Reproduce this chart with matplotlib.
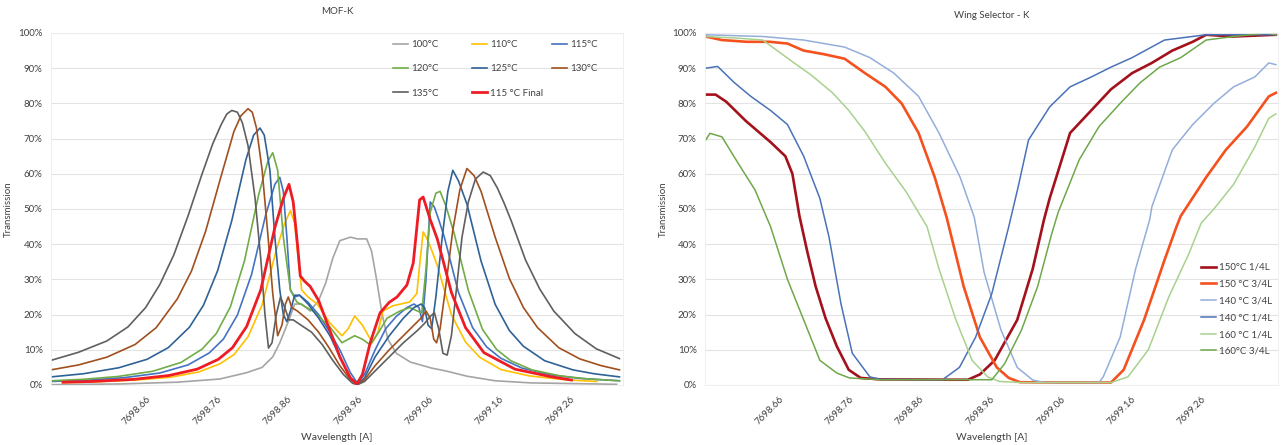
import matplotlib
matplotlib.use('Agg')
import matplotlib.pyplot as plt
from matplotlib.ticker import PercentFormatter, MultipleLocator

plt.rcParams['font.family'] = ['Lato', 'DejaVu Sans']

# ---------------- MOF-K (left chart) ----------------
mof_labels = ['100°C', '110°C', '115°C', '120°C', '125°C', '130°C', '135°C', '115 °C Final']
mof_colors = ['#A5A5A5', '#FFC000', '#4472C4', '#70AD47', '#2F6296', '#A0501E', '#5F5F5F', '#EE1C24']

wl_100 = [7698.521, 7698.620, 7698.700, 7698.760, 7698.798, 7698.820, 7698.835, 7698.845, 7698.858,
          7698.866, 7698.876, 7698.888, 7698.900, 7698.910, 7698.920, 7698.930, 7698.945, 7698.955,
          7698.968, 7698.975, 7698.982, 7698.990, 7698.998, 7699.010, 7699.030, 7699.060, 7699.080,
          7699.110, 7699.150, 7699.200, 7699.322]
t_100 = [0.1, 0.3, 0.8, 1.7, 3.5, 5, 8, 12, 18.5, 23, 23, 21, 24, 29, 36, 41, 42, 41.5,
         41.5, 38, 30, 20, 13, 9, 6.5, 4.8, 4, 2.5, 1.2, 0.6, 0.2]

wl_110 = [7698.538, 7698.580, 7698.640, 7698.690, 7698.730, 7698.760, 7698.780, 7698.800, 7698.820,
          7698.840, 7698.852, 7698.860, 7698.866, 7698.871, 7698.876, 7698.885, 7698.898, 7698.916,
          7698.933, 7698.942, 7698.951, 7698.962, 7698.976, 7698.984, 7698.991, 7699.005, 7699.029,
          7699.039, 7699.044, 7699.048, 7699.055, 7699.068, 7699.088, 7699.108, 7699.128, 7699.158,
          7699.198, 7699.248, 7699.294]
t_110 = [0.65, 0.85, 1.4, 2.2, 3.7, 6, 8.6, 13.7, 22.8, 38.3, 46, 49.5, 46, 36, 27, 25, 23, 17.6,
         14, 16, 19.6, 17, 12, 15, 21, 22.5, 23.6, 26, 36, 43.5, 41, 34, 20, 12.2, 7.9, 4.4,
         2.6, 1.5, 1.0]

wl_115 = [7698.521, 7698.575, 7698.625, 7698.675, 7698.715, 7698.745, 7698.765, 7698.785, 7698.805,
          7698.825, 7698.838, 7698.845, 7698.850, 7698.855, 7698.860, 7698.866, 7698.873, 7698.885,
          7698.900, 7698.916, 7698.930, 7698.945, 7698.955, 7698.965, 7698.980, 7698.995, 7699.010,
          7699.025, 7699.035, 7699.042, 7699.047, 7699.052, 7699.058, 7699.064, 7699.070, 7699.078,
          7699.098, 7699.118, 7699.138, 7699.158, 7699.188, 7699.228, 7699.268, 7699.326]
t_115 = [1.0, 1.4, 2.1, 3.4, 5.7, 9.1, 13, 19.9, 31.4, 48.3, 57, 59, 55, 42, 27, 25, 25.5, 23.5,
         20, 15, 10, 3.5, 0.5, 3, 10, 16, 19.5, 22, 23, 22, 18, 30, 52, 50.5, 47, 42,
         26.3, 16.3, 10.8, 7.6, 4.8, 2.9, 1.9, 1.2]

wl_120 = [7698.521, 7698.565, 7698.615, 7698.665, 7698.705, 7698.735, 7698.755, 7698.775, 7698.795,
          7698.815, 7698.828, 7698.835, 7698.842, 7698.850, 7698.860, 7698.869, 7698.892, 7698.916,
          7698.933, 7698.942, 7698.951, 7698.962, 7698.973, 7698.985, 7698.997, 7699.015, 7699.029,
          7699.040, 7699.046, 7699.052, 7699.058, 7699.066, 7699.072, 7699.080, 7699.092, 7699.112,
          7699.132, 7699.152, 7699.172, 7699.202, 7699.242, 7699.282, 7699.326]
t_120 = [1.2, 1.6, 2.4, 3.9, 6.4, 10.2, 14.6, 22.2, 35.3, 54, 63.5, 66, 61, 42, 27, 23.6, 21, 16.5,
         12, 13, 14, 13, 11.4, 15, 19, 21, 22, 21, 20.5, 33, 49, 54.5, 55, 51, 43, 26.9,
         15.8, 10.1, 6.9, 4.3, 2.6, 1.7, 1.2]

wl_125 = [7698.521, 7698.567, 7698.617, 7698.657, 7698.687, 7698.717, 7698.737, 7698.757, 7698.777,
          7698.797, 7698.808, 7698.817, 7698.823, 7698.831, 7698.838, 7698.845, 7698.850, 7698.855,
          7698.860, 7698.866, 7698.873, 7698.885, 7698.900, 7698.916, 7698.930, 7698.945, 7698.955,
          7698.965, 7698.980, 7699.000, 7699.020, 7699.035, 7699.045, 7699.050, 7699.055, 7699.060,
          7699.066, 7699.075, 7699.083, 7699.090, 7699.098, 7699.110, 7699.130, 7699.150, 7699.170,
          7699.190, 7699.220, 7699.260, 7699.290, 7699.326]
t_125 = [2.3, 3.2, 4.9, 7.3, 10.6, 16.4, 22.7, 32.5, 46.7, 64, 71, 73, 71, 61, 42, 27, 20, 18,
         21, 25.5, 25.5, 23, 19, 14, 8, 2, 0.3, 2, 8, 14, 19, 22, 23, 22, 17, 16,
         25, 42, 55, 61, 58, 51.4, 35.2, 22.9, 15.5, 11, 6.9, 4.3, 3.2, 2.3]

wl_130 = [7698.521, 7698.560, 7698.600, 7698.640, 7698.670, 7698.700, 7698.720, 7698.740, 7698.760,
          7698.780, 7698.790, 7698.800, 7698.806, 7698.812, 7698.820, 7698.828, 7698.835, 7698.842,
          7698.848, 7698.853, 7698.857, 7698.862, 7698.870, 7698.885, 7698.900, 7698.915, 7698.930,
          7698.945, 7698.955, 7698.965, 7698.980, 7699.000, 7699.020, 7699.035, 7699.045, 7699.052,
          7699.058, 7699.063, 7699.067, 7699.072, 7699.080, 7699.090, 7699.100, 7699.110, 7699.120,
          7699.130, 7699.150, 7699.170, 7699.190, 7699.210, 7699.240, 7699.270, 7699.300, 7699.326]
t_130 = [4.3, 5.7, 7.9, 11.5, 16.3, 24.5, 32.4, 43.7, 58, 72, 76.5, 78.5, 77.5, 73, 61, 43, 26, 14,
         17, 23, 25, 22, 21, 18.5, 15, 10.5, 5.5, 1.5, 0.2, 1.5, 5.5, 10, 14, 17, 19, 21,
         19, 13, 12, 16, 28, 44, 55.5, 61.5, 59.5, 55, 42, 30.3, 22, 16.3, 10.6, 7.4, 5.5, 4.3]

wl_135 = [7698.521, 7698.560, 7698.600, 7698.630, 7698.655, 7698.675, 7698.695, 7698.715, 7698.735,
          7698.750, 7698.762, 7698.770, 7698.777, 7698.785, 7698.792, 7698.800, 7698.810, 7698.818,
          7698.824, 7698.829, 7698.834, 7698.840, 7698.846, 7698.852, 7698.858, 7698.864, 7698.875,
          7698.890, 7698.905, 7698.920, 7698.935, 7698.948, 7698.955, 7698.965, 7698.980, 7699.000,
          7699.020, 7699.040, 7699.050, 7699.058, 7699.064, 7699.070, 7699.076, 7699.082, 7699.088,
          7699.095, 7699.103, 7699.112, 7699.122, 7699.133, 7699.143, 7699.153, 7699.163, 7699.173,
          7699.183, 7699.193, 7699.213, 7699.233, 7699.263, 7699.293, 7699.326]
t_135 = [7, 9.3, 12.5, 16.5, 22, 28.5, 37, 48, 60, 68.5, 74, 77, 78, 77.5, 74.5, 68, 53, 36,
         20, 10.5, 12, 20, 25, 22, 18.5, 18.5, 17, 15, 11.5, 7, 3, 0.5, 0.1, 1, 4, 8,
         12, 15.5, 17.5, 19.5, 20.5, 16, 9, 8.5, 14, 27, 42, 52, 58.5, 60.5, 59.5, 56, 51.5, 46.5,
         41, 35.5, 27.3, 21, 14.6, 10.3, 7.5]

wl_115f = [7698.538, 7698.578, 7698.638, 7698.688, 7698.728, 7698.758, 7698.778, 7698.798, 7698.818,
           7698.838, 7698.850, 7698.858, 7698.864, 7698.870, 7698.874, 7698.880, 7698.888, 7698.900,
           7698.915, 7698.930, 7698.945, 7698.954, 7698.962, 7698.973, 7698.987, 7699.000, 7699.011,
           7699.025, 7699.034, 7699.043, 7699.048, 7699.058, 7699.068, 7699.076, 7699.088, 7699.108,
           7699.134, 7699.178, 7699.228, 7699.258]
t_115f = [0.8, 1.0, 1.6, 2.7, 4.5, 7.3, 10.6, 16.6, 27, 44.7, 53, 57, 52, 40, 31, 29.5, 28, 24,
          16, 8, 2, 0.3, 3, 12, 20.5, 23.5, 25, 28.4, 34.7, 52.6, 53.4, 47, 41.5, 35.5, 26.3, 16.3,
          9.2, 4.5, 2.4, 1.4]

mof_wl = [wl_100, wl_110, wl_115, wl_120, wl_125, wl_130, wl_135, wl_115f]
mof_t = [t_100, t_110, t_115, t_120, t_125, t_130, t_135, t_115f]
mof_lw = [1.2, 1.2, 1.2, 1.2, 1.2, 1.2, 1.2, 2.0]

# ---------------- Wing Selector - K (right chart) ----------------
ws_labels = ['150°C 1/4L', '150 °C 3/4L', '140 °C 3/4L', '140 °C 1/4L', '160 °C 1/4L', '160°C 3/4L']
ws_colors = ['#A3121C', '#F4511E', '#94AEDA', '#4A72B8', '#A9D18E', '#6FA84A']

wl_150q = [7698.552, 7698.566, 7698.581, 7698.609, 7698.644, 7698.665, 7698.675, 7698.685, 7698.696,
           7698.708, 7698.722, 7698.738, 7698.755, 7698.772, 7698.800, 7698.900, 7698.924, 7698.941,
           7698.962, 7698.994, 7699.016, 7699.032, 7699.040, 7699.069, 7699.099, 7699.127, 7699.157,
           7699.185, 7699.214, 7699.243, 7699.262, 7699.300, 7699.361]
t_150q = [82.5, 82.5, 80.5, 75, 69, 65, 60, 48, 38, 28, 19, 11, 4.3, 2, 1.6, 1.5, 1.5, 3,
          7, 18.5, 33, 47, 53, 71.6, 78, 84, 88.6, 91.5, 95, 97.5, 99.5, 99, 99.5]

wl_150t = [7698.552, 7698.575, 7698.610, 7698.643, 7698.668, 7698.691, 7698.719, 7698.749, 7698.778,
           7698.807, 7698.830, 7698.854, 7698.877, 7698.894, 7698.918, 7698.941, 7698.965, 7698.982,
           7698.998, 7699.050, 7699.127, 7699.145, 7699.174, 7699.203, 7699.220, 7699.226, 7699.262,
           7699.290, 7699.320, 7699.351, 7699.361]
t_150t = [99, 98, 97.5, 97.5, 97, 95, 94, 92.7, 88.6, 84.7, 80, 71.6, 59, 47.5, 28, 13.6, 5, 2,
          0.8, 0.7, 0.7, 4.3, 18.5, 35.5, 45, 48, 59, 66.8, 73.4, 82, 83]

wl_140t = [7698.552, 7698.633, 7698.691, 7698.749, 7698.785, 7698.819, 7698.854, 7698.883, 7698.913,
           7698.933, 7698.947, 7698.971, 7698.994, 7699.016, 7699.033, 7699.110, 7699.116, 7699.140,
           7699.162, 7699.182, 7699.185, 7699.214, 7699.243, 7699.273, 7699.301, 7699.331, 7699.351,
           7699.361]
t_140t = [99.5, 99, 98, 96, 93, 88.6, 82, 71.6, 59, 47.7, 32, 15.6, 5, 1.4, 0.7, 0.7, 2.3, 13.6,
          33, 47, 50.6, 66.8, 74, 80, 84.7, 87.5, 91.5, 91]

wl_140q = [7698.552, 7698.569, 7698.592, 7698.616, 7698.644, 7698.668, 7698.691, 7698.714, 7698.727,
           7698.744, 7698.760, 7698.785, 7698.800, 7698.888, 7698.912, 7698.935, 7698.958, 7698.982,
           7698.995, 7699.010, 7699.040, 7699.069, 7699.099, 7699.127, 7699.157, 7699.203, 7699.262,
           7699.300, 7699.361]
t_140q = [90, 90.5, 86, 82, 78, 74, 65, 53, 42, 23, 9, 2.3, 1.6, 1.5, 5, 13.6, 26, 45,
          56, 69.6, 79, 84.7, 87.5, 90.3, 93, 98, 99.5, 99.5, 99.5]

wl_160q = [7698.552, 7698.600, 7698.633, 7698.650, 7698.674, 7698.702, 7698.732, 7698.755, 7698.778,
           7698.807, 7698.836, 7698.866, 7698.883, 7698.907, 7698.930, 7698.952, 7698.969, 7699.000,
           7699.127, 7699.151, 7699.180, 7699.209, 7699.238, 7699.255, 7699.273, 7699.301, 7699.331,
           7699.351, 7699.361]
t_160q = [99, 98.5, 98, 95.5, 92, 88, 83, 78, 72, 63, 55, 45, 33, 18.5, 7, 2.3, 1, 0.7,
          0.7, 2.3, 10, 25, 37.5, 46, 50, 57, 67.6, 75.8, 77]

wl_160t = [7698.552, 7698.558, 7698.575, 7698.598, 7698.622, 7698.644, 7698.668, 7698.691, 7698.714,
           7698.738, 7698.756, 7698.800, 7698.958, 7698.976, 7699.000, 7699.023, 7699.043, 7699.052,
           7699.082, 7699.110, 7699.140, 7699.168, 7699.196, 7699.226, 7699.262, 7699.301, 7699.348,
           7699.361]
t_160t = [69.6, 71.5, 70.5, 63, 55.4, 45, 30, 18.5, 7, 3.4, 2, 1.5, 1.5, 6, 15.6, 28, 43, 49,
          64, 73.4, 80, 85.8, 90.3, 93, 98, 99, 100, 99.5]

ws_wl = [wl_150q, wl_150t, wl_140t, wl_140q, wl_160q, wl_160t]
ws_t = [t_150q, t_150t, t_140t, t_140q, t_160q, t_160t]
ws_lw = [1.9, 1.9, 1.1, 1.1, 1.1, 1.1]

xticks = [7698.66, 7698.76, 7698.86, 7698.96, 7699.06, 7699.16, 7699.26]

txt = '#404040'
fig = plt.figure(figsize=(12.82, 4.45), dpi=100)
ax1 = fig.add_axes([51 / 1282, 60 / 445, 572 / 1282, 352 / 445])
ax2 = fig.add_axes([705 / 1282, 60 / 445, 573 / 1282, 352 / 445])


def style(ax, title, xlim, ylab_x, title_y):
    ax.set_xlim(*xlim)
    ax.set_ylim(0, 100)
    ax.yaxis.set_major_locator(MultipleLocator(10))
    ax.yaxis.set_major_formatter(PercentFormatter(100, decimals=0))
    ax.set_xticks(xticks)
    ax.set_xticklabels(['%.2f' % v for v in xticks], rotation=45, ha='right',
                       va='center', rotation_mode='anchor')
    ax.tick_params(length=0, labelsize=7, colors=txt)
    ax.tick_params(axis='x', pad=9)
    ax.tick_params(axis='y', pad=6)
    ax.grid(axis='y', color='#E3E3E3', linewidth=0.8)
    ax.set_axisbelow(True)
    for s in ax.spines.values():
        s.set_color('#EDEDED')
        s.set_linewidth(0.6)
    ax.set_xlabel('Wavelength [A]', fontsize=7.5, color=txt)
    ax.xaxis.set_label_coords(0.5, -52 / 352)
    ax.xaxis.label.set_va('center')
    ax.set_ylabel('Transmission', fontsize=7, color=txt)
    ax.yaxis.set_label_coords(ylab_x, 0.5)
    ax.yaxis.label.set_va('center')
    ax.text(0.5, title_y, title, transform=ax.transAxes, ha='center', va='center',
            fontsize=7, color=txt)


style(ax1, 'MOF-K', (7698.521, 7699.331), -43 / 572, 1 + 21 / 352)
style(ax2, 'Wing Selector - K', (7698.551, 7699.364), -42 / 573, 1 + 18 / 352)

lines1 = []
for wl, t, c, lw, lab in zip(mof_wl, mof_t, mof_colors, mof_lw, mof_labels):
    ln, = ax1.plot(wl, t, color=c, lw=lw, label=lab, solid_joinstyle='round')
    lines1.append(ln)

for wl, t, c, lw, lab in zip(ws_wl, ws_t, ws_colors, ws_lw, ws_labels):
    ax2.plot(wl, t, color=c, lw=lw, label=lab, solid_joinstyle='round')

# Excel-like 3 column legend (fixed column pitch), one legend per column
cols = [[0, 3, 6], [1, 4, 7], [2, 5]]
col_x = [(393 - 51) / 572, (472 - 51) / 572, (552 - 51) / 572]
for k, (idx, x) in enumerate(zip(cols, col_x)):
    leg = ax1.legend([lines1[i] for i in idx], [mof_labels[i] for i in idx],
                     loc='upper left', bbox_to_anchor=(x, (385 - 40) / 352),
                     frameon=False, borderpad=0, borderaxespad=0, fontsize=7,
                     handlelength=1.55, handletextpad=0.3, labelspacing=1.57,
                     labelcolor=txt)
    if k < len(cols) - 1:
        ax1.add_artist(leg)

ax2.legend(loc='upper left', bbox_to_anchor=((1201 - 705) / 573, (385 - 263) / 352),
           frameon=False, borderpad=0, borderaxespad=0, fontsize=7,
           handlelength=1.55, handletextpad=0.3, labelspacing=0.8, labelcolor=txt)

fig.savefig('out.png', dpi=100)
